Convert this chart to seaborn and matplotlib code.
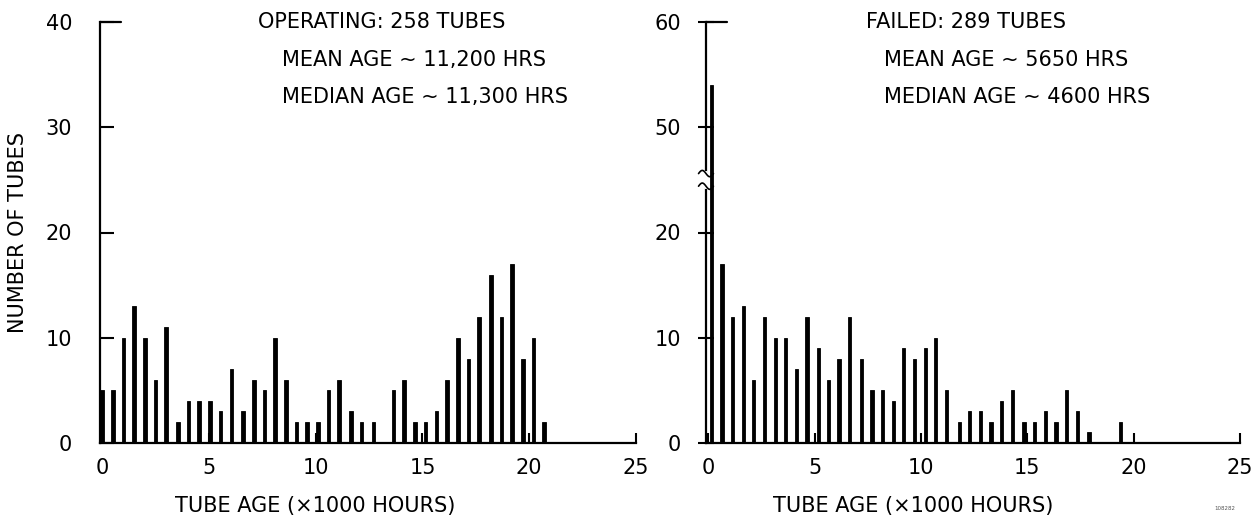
import numpy as np
import pandas as pd
import matplotlib
matplotlib.use("Agg")
import matplotlib.pyplot as plt
import seaborn as sns

# Tube age bins (x1000 hours) and counts
op_age = [0.0, 0.5, 1.0, 1.5, 2.0, 2.5, 3.0, 3.55, 4.05, 4.55, 5.05, 5.55, 6.05, 6.6,
          7.1, 7.6, 8.1, 8.6, 9.1, 9.6, 10.1, 10.6, 11.1, 11.65, 12.15, 12.7,
          13.65, 14.15, 14.65, 15.15, 15.65, 16.15, 16.65, 17.15, 17.65, 18.2,
          18.7, 19.2, 19.7, 20.2, 20.7]
op_count = [5, 5, 10, 13, 10, 6, 11, 2, 4, 4, 4, 3, 7, 3,
            6, 5, 10, 6, 2, 2, 2, 5, 6, 3, 2, 2,
            5, 6, 2, 2, 3, 6, 10, 8, 12, 16,
            12, 17, 8, 10, 2]

fail_age = [0.15, 0.65, 1.15, 1.65, 2.15, 2.65, 3.15, 3.65, 4.15, 4.65, 5.2, 5.65,
            6.15, 6.65, 7.2, 7.7, 8.2, 8.7, 9.2, 9.7, 10.2, 10.7, 11.2, 11.8,
            12.3, 12.8, 13.3, 13.8, 14.3, 14.85, 15.35, 15.85, 16.35, 16.85,
            17.35, 17.9, 19.4]
fail_count = [54, 17, 12, 13, 6, 12, 10, 10, 7, 12, 9, 6,
              8, 12, 8, 5, 5, 4, 9, 8, 9, 10, 5, 2,
              3, 3, 2, 4, 5, 2, 2, 3, 2, 5,
              3, 1, 2]

x_ticks = [0, 5, 10, 15, 20, 25]
op_yticks = [0, 10, 20, 30, 40]
fail_yticks = [0, 10, 20, 50, 60]

op_text = ["OPERATING: 258 TUBES", "MEAN AGE ~ 11,200 HRS", "MEDIAN AGE ~ 11,300 HRS"]
fail_text = ["FAILED: 289 TUBES", "MEAN AGE ~ 5650 HRS", "MEDIAN AGE ~ 4600 HRS"]

op_df = pd.DataFrame({"age": op_age, "count": op_count})
fail_df = pd.DataFrame({"age": fail_age, "count": fail_count})

sns.set_style("white")
plt.rcParams["font.family"] = ["DejaVu Sans"]
plt.rcParams["font.size"] = 15
plt.rcParams["text.color"] = "black"
plt.rcParams["axes.labelcolor"] = "black"
plt.rcParams["xtick.color"] = "black"
plt.rcParams["ytick.color"] = "black"

fig = plt.figure(figsize=(12.58, 5.25), dpi=100)
ax1 = fig.add_axes([100 / 1258, 1 - 443 / 525, 536 / 1258, 421 / 525])
ax2 = fig.add_axes([706 / 1258, 1 - 443 / 525, 534 / 1258, 421 / 525])


# broken y axis on the right panel: 20 -> 50 squeezed into one gap
def fwd(v):
    v = np.asarray(v, dtype=float)
    return np.where(v <= 20, v, np.where(v >= 50, v - 20, 20 + (v - 20) / 3))


def inv(y):
    y = np.asarray(y, dtype=float)
    return np.where(y <= 20, y, np.where(y >= 30, y + 20, 20 + (y - 20) * 3))


ax2.set_yscale("function", functions=(fwd, inv))

for ax, df in [(ax1, op_df), (ax2, fail_df)]:
    sns.barplot(data=df, x="age", y="count", native_scale=True, color="black",
                width=0.34, saturation=1, edgecolor="black", linewidth=0.6, ax=ax)

for ax, yt in [(ax1, op_yticks), (ax2, fail_yticks)]:
    ax.set_xlim(-0.1, 25)
    ax.set_ylim(0, 40 if ax is ax1 else 60)
    ax.set_xticks(x_ticks)
    ax.set_xticklabels([str(t) for t in x_ticks])
    ax.set_yticks(yt)
    ax.set_yticklabels([str(t) for t in yt])
    ax.tick_params(axis="x", bottom=True, direction="in", length=7, width=1.5,
                   pad=11, labelsize=15, colors="black")
    ax.tick_params(axis="y", left=True, direction="in", length=10, width=1.5,
                   labelsize=15, colors="black")
    for s in ["top", "right"]:
        ax.spines[s].set_visible(False)
    for s in ["left", "bottom"]:
        ax.spines[s].set_linewidth(1.6)
        ax.spines[s].set_color("black")
    ax.set_xlabel("TUBE AGE (\u00d71000 HOURS)", fontsize=15, color="black")
    ax.set_ylabel("")

ax1.tick_params(axis="y", pad=20)
ax2.tick_params(axis="y", direction="inout", length=12, pad=12)
ax1.xaxis.set_label_coords(215 / 536, -0.125)
ax2.xaxis.set_label_coords(207 / 534, -0.125)
ax1.set_ylabel("NUMBER OF TUBES", fontsize=15, color="black")
ax1.yaxis.set_label_coords(-0.135, 0.5)

# top cap of the y axes
ax1.plot([-0.1, 0.9], [40, 40], color="black", lw=1.6, clip_on=False)
ax2.plot([-0.1, 0.9], [60, 60], color="black", lw=1.6, clip_on=False)

# axis break marks
ax2.plot([-0.1, -0.1], [33, 37], color="white", lw=3, clip_on=False, zorder=5)
for yb in [33.2, 36.8]:
    xs = np.linspace(-0.45, 0.25, 20)
    ax2.plot(xs, yb + 0.9 * np.sin((xs + 0.45) / 0.7 * 2 * np.pi), color="black",
             lw=1.2, clip_on=False, zorder=6)

for ax, lines, x0 in [(ax1, op_text, [(258 - 100) / 536, (282 - 100) / 536, (282 - 100) / 536]),
                      (ax2, fail_text, [(866 - 706) / 534, (884 - 706) / 534, (884 - 706) / 534])]:
    for line, xx, yy in zip(lines, x0, [22, 60, 97]):
        ax.text(xx, (443 - yy) / 421, line, transform=ax.transAxes, fontsize=15,
                ha="left", va="center", color="black")

fig.text(1225 / 1258, 1 - 508 / 525, "108282", fontsize=4, ha="center", va="center", color="#555555")

fig.savefig("out.png", dpi=100, facecolor="white")
